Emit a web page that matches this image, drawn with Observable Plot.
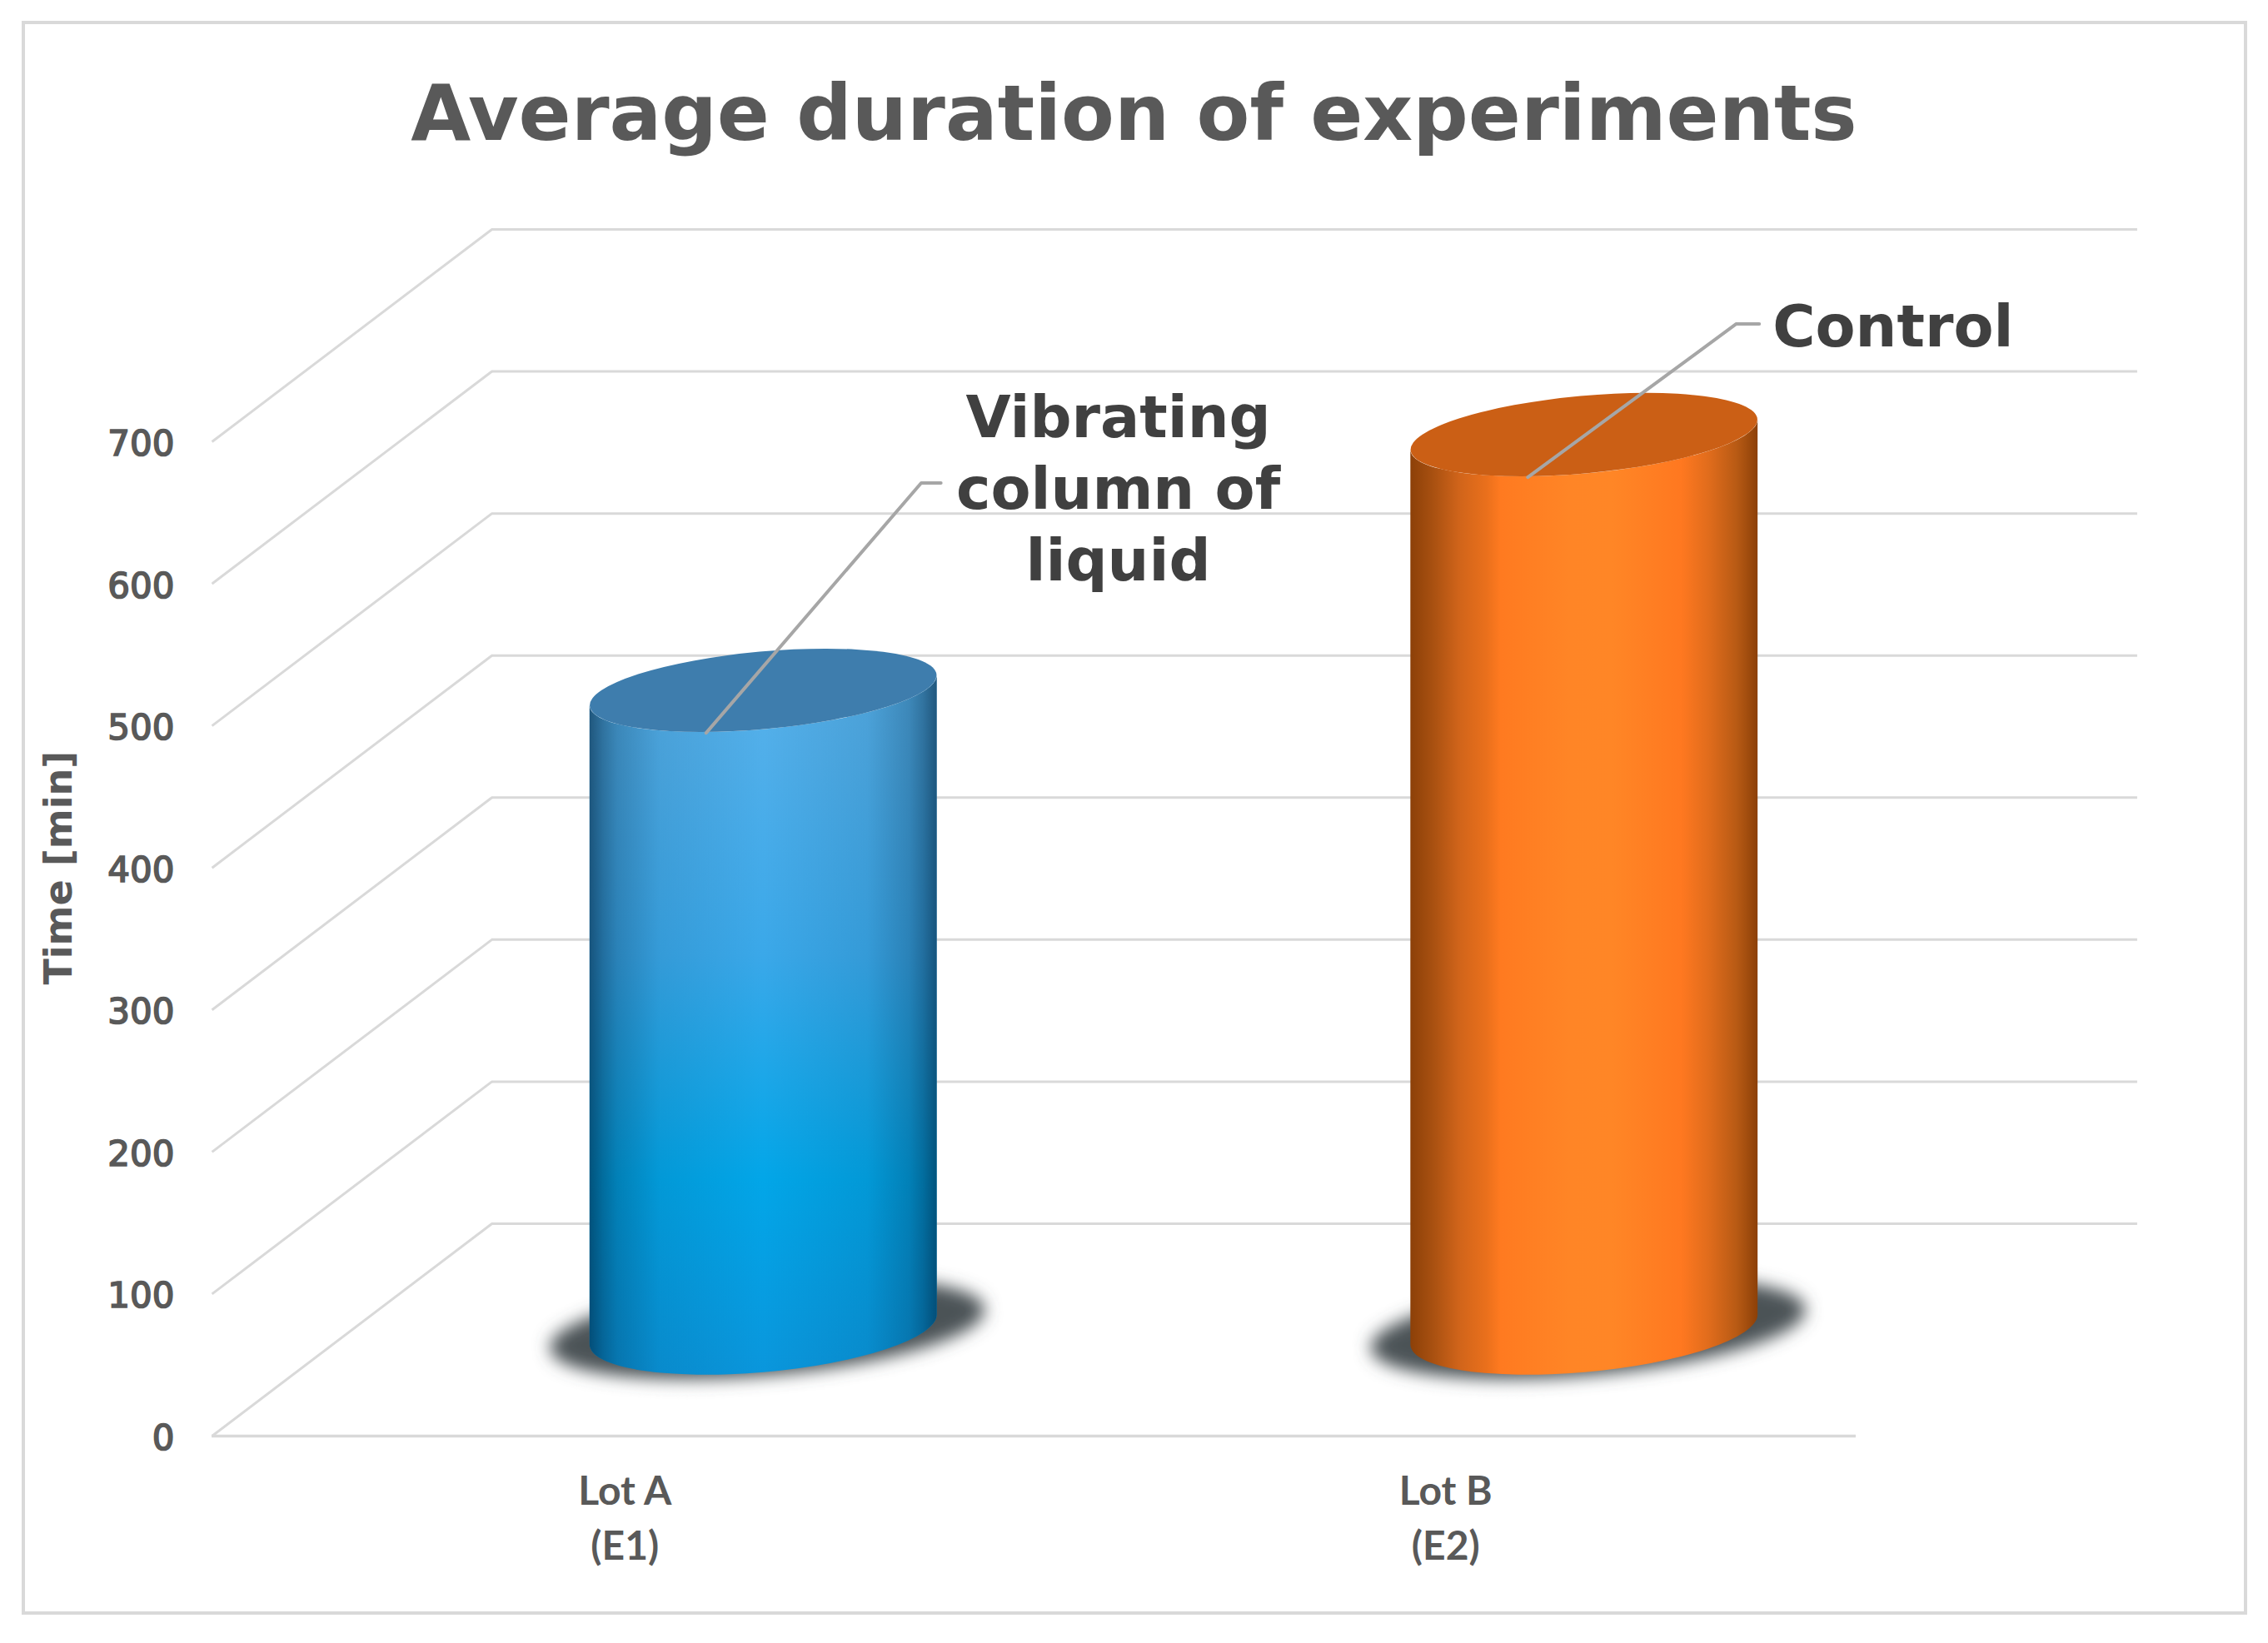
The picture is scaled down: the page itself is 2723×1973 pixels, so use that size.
<!DOCTYPE html>
<html>
<head>
<meta charset="utf-8">
<script src="https://cdn.jsdelivr.net/npm/d3@7"></script>
<script src="https://cdn.jsdelivr.net/npm/@observablehq/plot@0.6"></script>
<style>
  html, body { margin: 0; background: #fff; }
  #page { position: relative; width: 2723px; height: 1973px; overflow: hidden; background: #fff; }
  #frame { position: absolute; left: 26px; top: 25px; width: 2672px; height: 1914px; border: 4px solid #d9d9d9; box-sizing: border-box; }
  #title { position: relative; height: 230px; box-sizing: border-box; padding-top: 90px; text-align: center; font: 700 93px/1 "DejaVu Sans", sans-serif; color: #595959; }
  #chart svg { display: block; }
  g[aria-label="y-axis tick label"] text { stroke: #595959; stroke-width: 1.7px; }
</style>
</head>
<body>
<div id="page">
  <div id="frame"></div>
  <div id="title">Average duration of experiments</div>
  <div id="chart"></div>
</div>
<script>
const lots = ["Lot A\n(E1)", "Lot B\n(E2)"];
const lotPositions = [0.5, 1.5];
const minutes = [450, 630];
const yTicks = [0, 100, 200, 300, 400, 500, 600, 700];
const seriesNames = ["Vibrating\ncolumn of\nliquid", "Control"];
const labelX = [1.101, 2.045];
const labelY = [669, 783];
const leaderA = [[0.599, 495], [0.861, 671], [0.885, 671]];
const leaderB = [[1.600, 675], [1.854, 783], [1.882, 783]];
const capColors = ["#3e7dad", "#cb5f15"];
const shadowColor = "#4c5256";
const gridColor = "#d9d9d9";

// Depth of the 3-D floor, in data units
const depthX = 0.338, depthY = 149.5;
// The same depth in pixels, half way back, where the cylinders stand
const midDx = 166.5, midDy = -127.5;

const bars = lots.map((lot, i) => ({lot, pos: lotPositions[i], value: minutes[i]}));
const halfWidth = 0.2115;

const A = 209, B = 46.5, BOTTOM_B = 51, ROT = -5.2, EDGE = 18;

function cylinderRender(fill) {
  return function (index, scales, values) {
    const g = d3.create("svg:g").attr("transform", `translate(${midDx},${midDy})`);
    for (const i of index) {
      const d = bars[i];
      const L = scales.x(d.pos - halfWidth), R = scales.x(d.pos + halfWidth);
      const top = scales.y(d.value), bot = scales.y(0);
      g.append("path")
        .attr("fill", `url(#${fill}${i})`)
        .attr("d", `M${L},${top + EDGE}L${L},${bot + EDGE}A${A},${BOTTOM_B} ${ROT} 0 0 ${R},${bot - EDGE}L${R},${top - EDGE}A${A},${B} ${ROT} 0 1 ${L},${top + EDGE}Z`);
    }
    return g.node();
  };
}

function capRender(index, scales, values) {
  const g = d3.create("svg:g").attr("transform", `translate(${midDx},${midDy})`);
  for (const i of index) {
    g.append("ellipse").attr("rx", A).attr("ry", B).attr("fill", capColors[i])
      .attr("transform", `translate(${values.x[i]},${values.y[i]}) rotate(${ROT})`);
  }
  return g.node();
}

function shadowRender(index, scales, values) {
  const g = d3.create("svg:g").attr("transform", `translate(${midDx + 5},${midDy - 1})`);
  for (const i of index) {
    g.append("ellipse").attr("rx", 262).attr("ry", 56).attr("fill", shadowColor)
      .attr("filter", "url(#blur)")
      .attr("transform", `translate(${values.x[i]},${values.y[i]}) rotate(${ROT})`);
  }
  return g.node();
}

// Blue varies down the cylinder, orange across it
const baseStops = [
  [["0%", "#58b1ea"], ["40%", "#3aa8e9"], ["72%", "#02a6e8"], ["100%", "#0a96dc"]],
  [["0%", "#8c4008"], ["6%", "#a64f10"], ["14%", "#d0641a"], ["22%", "#ea701c"], ["26%", "#ff7a20"], ["46%", "#ff8526"],
   ["58%", "#ff8626"], ["78%", "#ff7820"], ["86%", "#e06c1c"], ["94%", "#b85a14"], ["100%", "#8c4008"]]
];
const baseAcross = [false, true];
const shadeStops = [
  [["0%", .62], ["4%", .42], ["8%", .28], ["20%", .1], ["50%", 0], ["80%", .1], ["92%", .28], ["96%", .42], ["100%", .62]],
  []
];
const defsMark = () => {
  const defs = d3.create("svg:defs");
  baseStops.forEach((stops, i) => {
    const lg = defs.append("linearGradient").attr("id", `vert${i}`).attr("x1", 0).attr("y1", 0)
      .attr("x2", baseAcross[i] ? 1 : 0).attr("y2", baseAcross[i] ? 0 : 1);
    stops.forEach(([o, c]) => lg.append("stop").attr("offset", o).attr("stop-color", c));
  });
  shadeStops.forEach((stops, i) => {
    const lg = defs.append("linearGradient").attr("id", `shade${i}`);
    stops.forEach(([o, a]) => lg.append("stop").attr("offset", o).attr("stop-color", "#00203a").attr("stop-opacity", a));
  });
  defs.append("filter").attr("id", "blur").attr("x", "-20%").attr("y", "-50%").attr("width", "140%").attr("height", "200%")
    .append("feGaussianBlur").attr("stdDeviation", 10);
  return defs.node();
};

const leaders = [leaderA, leaderB].flatMap((pts, k) => pts.map(([x, y]) => ({x, y, k})));

const chart = Plot.plot({
  width: 2723,
  height: 1743,
  marginTop: 300,
  marginBottom: 249,
  marginLeft: 257,
  marginRight: 495,
  style: {background: "transparent", overflow: "visible"},
  x: {domain: [0, 2]},
  y: {domain: [0, 700]},
  marks: [
    defsMark,
    Plot.ruleY(yTicks, {x1: 0, x2: 2.005, dx: 333, dy: -255, stroke: gridColor, strokeWidth: 3}),
    Plot.link(yTicks, {x1: -0.003, x2: depthX, y1: d => d, y2: d => d + depthY, stroke: gridColor, strokeWidth: 3}),
    Plot.ruleY([0], {x1: -0.003, x2: 2, stroke: gridColor, strokeWidth: 3.5}),
    Plot.axisY({ticks: yTicks, tickSize: 0, tickPadding: 48, dy: 3, fontSize: 42, fontWeight: 400, fontFamily: "DejaVu Sans", color: "#595959", label: null}),
    Plot.axisX({
      ticks: lotPositions, tickFormat: (d, i) => lots[i], tickSize: 0, tickPadding: 36,
      fontSize: 48, fontWeight: 700, fontFamily: "Lato", color: "#595959", lineHeight: 1.375, label: null
    }),
    Plot.text(["Time [min]"], {
      frameAnchor: "left", y: 400, dx: -186, rotate: -90, fontSize: 46, fontWeight: 700,
      fontFamily: "DejaVu Sans", fill: "#595959", textAnchor: "middle"
    }),
    Plot.dot(bars, {x: "pos", y: 0, render: shadowRender}),
    Plot.rectY(bars, {x1: d => d.pos - halfWidth, x2: d => d.pos + halfWidth, y: "value", render: cylinderRender("vert")}),
    Plot.rectY(bars, {x1: d => d.pos - halfWidth, x2: d => d.pos + halfWidth, y: "value", render: cylinderRender("shade")}),
    Plot.dot(bars, {x: "pos", y: "value", render: capRender}),
    Plot.line(leaders, {x: "x", y: "y", z: "k", stroke: "#a6a6a6", strokeWidth: 4, curve: "linear"}),
    Plot.text(seriesNames, {
      x: (d, i) => labelX[i], y: (d, i) => labelY[i], fontSize: 70, fontWeight: 700,
      fontFamily: "DejaVu Sans", fill: "#404040", lineHeight: 1.23, textAnchor: "middle", lineAnchor: "middle"
    })
  ]
});
document.getElementById("chart").appendChild(chart);
</script>
</body>
</html>
